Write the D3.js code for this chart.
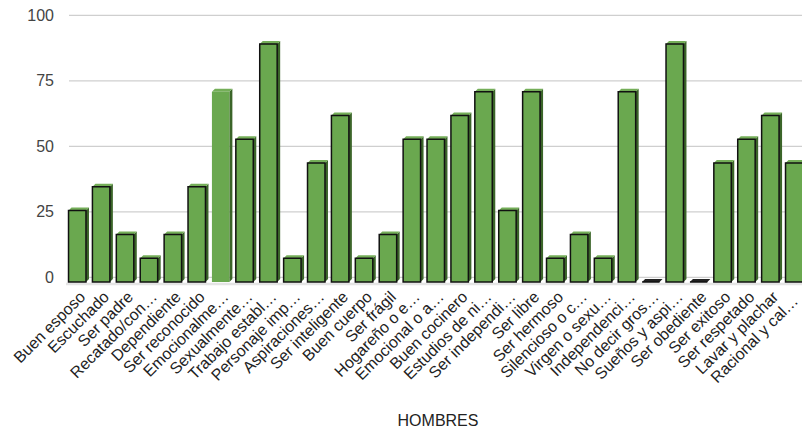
<!DOCTYPE html>
<html>
<head>
<meta charset="utf-8">
<script src="https://cdn.jsdelivr.net/npm/d3@7"></script>
<style>
  html, body { margin: 0; padding: 0; background: #fff; }
  svg { display: block; font-family: "Liberation Sans", Arial, sans-serif; }
</style>
</head>
<body>
<svg id="chart" width="802" height="430"></svg>
<script>
// Answers by category (percent of respondents)
const categories = [
  "Buen esposo", "Escuchado", "Ser padre", "Recatado/con…", "Dependiente",
  "Ser reconocido", "Emocionalme…", "Sexualmente…", "Trabajo establ…", "Personaje imp…",
  "Aspiraciones…", "Ser inteligente", "Buen cuerpo", "Ser frágil", "Hogareño o e…",
  "Emocional o a…", "Buen cocinero", "Estudios de ni…", "Ser independi…", "Ser libre",
  "Ser hermoso", "Silencioso o c…", "Virgen o sexu…", "Independenci…", "No decir gros…",
  "Sueños y aspi…", "Ser obediente", "Ser exitoso", "Ser respetado", "Lavar y plachar",
  "Racional y cal…"
];
const values = [
  27.3, 36.4, 18.2, 9.1, 18.2,
  36.4, 72.7, 54.5, 90.9, 9.1,
  45.5, 63.6, 9.1, 18.2, 54.5,
  54.5, 63.6, 72.7, 27.3, 72.7,
  9.1, 18.2, 9.1, 72.7, 0,
  90.9, 0, 45.5, 54.5, 63.6,
  45.5
];
const yTicks = [0, 25, 50, 75, 100];
const highlighted = ["Emocionalme…"];
const title = "HOMBRES";

const svg = d3.select("#chart");
const W = 802, H = 430;
const depth = 3;        // 3D extrusion of each bar
const frontDrop = 4.8;  // front face sits below the back plane

const x = d3.scaleBand()
  .domain(categories)
  .range([65.3, 806.2])
  .paddingInner(0.27)
  .paddingOuter(0.135);

const y = d3.scaleLinear().domain([0, 100]).range([277.3, 15.3]);
const yf = v => y(v) + frontDrop;

// gridlines
svg.append("g")
  .selectAll("line")
  .data(yTicks)
  .join("line")
  .attr("x1", 69).attr("x2", W)
  .attr("y1", d => y(d)).attr("y2", d => y(d))
  .attr("stroke", "#cfcfcf")
  .attr("stroke-width", 1.2);

// floor edge
svg.append("line")
  .attr("x1", 66).attr("x2", W)
  .attr("y1", yf(0) + 1.8).attr("y2", yf(0) + 1.8)
  .attr("stroke", "#e4e4e4")
  .attr("stroke-width", 2.5);

// y axis labels
const yAxis = d3.axisLeft(y).tickValues(yTicks).tickSize(0).tickPadding(0);
const ga = svg.append("g").attr("transform", "translate(54,0)").call(yAxis);
ga.select(".domain").remove();
ga.selectAll("text")
  .attr("font-size", 16)
  .attr("font-family", "'Liberation Sans', Arial, sans-serif")
  .attr("fill", "#444");

// bars
const bars = svg.append("g")
  .selectAll("g")
  .data(categories.map((c, i) => ({ c, v: values[i] })))
  .join("g");

const bw = x.bandwidth();

bars.append("path") // side face
  .attr("d", d => {
    const x0 = x(d.c) + bw, t = yf(d.v), b = yf(0);
    return `M${x0},${t} L${x0 + depth},${t - depth} L${x0 + depth},${b - depth} L${x0},${b} Z`;
  })
  .attr("fill", "#3b6529");

bars.append("path") // top face
  .attr("d", d => {
    const x0 = x(d.c), t = yf(d.v);
    return `M${x0},${t} L${x0 + depth},${t - depth} L${x0 + bw + depth},${t - depth} L${x0 + bw},${t} Z`;
  })
  .attr("fill", d => d.v === 0 ? "#222" : "#74ae58");

bars.append("path") // front face
  .attr("d", d => {
    const x0 = x(d.c), t = yf(d.v), b = yf(0);
    return `M${x0},${t} H${x0 + bw} V${b} H${x0} Z`;
  })
  .attr("fill", "#6aa84f")
  .attr("stroke", d => highlighted.includes(d.c) ? "none" : "#111")
  .attr("stroke-width", 1.5);

// category labels, slanted; the last ones slide down the diagonal to stay inside
svg.append("g")
  .selectAll("text")
  .data(categories)
  .join("text")
  .attr("transform", d => {
    let ax = x(d) + bw / 2 + 9, ay = 298;
    const over = Math.max(0, ax - (W - 3));
    ax -= over; ay += over;
    return `translate(${ax},${ay}) rotate(-45)`;
  })
  .attr("text-anchor", "end")
  .attr("font-size", 16)
  .attr("fill", "#222")
  .text(d => d);

// axis title
svg.append("text")
  .attr("x", 438).attr("y", 426)
  .attr("text-anchor", "middle")
  .attr("font-size", 16)
  .attr("fill", "#222")
  .text(title);
</script>
</body>
</html>
